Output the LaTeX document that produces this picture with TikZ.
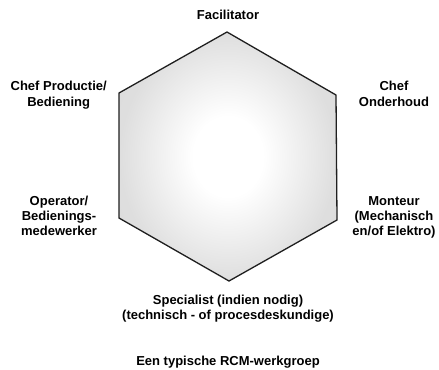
\documentclass[tikz,border=0pt]{standalone}
\usepackage{fontspec}
\setmainfont{Liberation Sans}
\pgfdeclareradialshading{hexshade}{\pgfpoint{0bp}{0bp}}{color(0bp)=(white); color(8bp)=(white); color(25bp)=(black!13); color(50bp)=(black!15)}
\begin{document}
\begin{tikzpicture}[x=1bp,y=-1bp,
  lbl/.style={align=center,anchor=base,inner sep=0pt,font=\fontsize{13bp}{15.2bp}\selectfont\bfseries},
  hexline/.style={draw=black!88,line width=1.3bp,line join=miter}]
\useasboundingbox (0,0) rectangle (439,369);
\coordinate (T) at (227,32);
\coordinate (UR) at (336,95);
\coordinate (LR) at (337,220);
\coordinate (B) at (229,281);
\coordinate (LL) at (119,218);
\coordinate (UL) at (119,93);
\shade[shading=hexshade] (T) -- (UR) -- (LR) -- (B) -- (LL) -- (UL) -- cycle;
\draw[hexline] (T) -- (UR) -- (LR) -- (B) -- (LL) -- (UL) -- cycle;
\node[lbl] (fac) at (228,19.5) {Facilitator};
\node[lbl] (cpb) at (58.7,106) {Chef Productie/\\Bediening};
\node[lbl] (cho) at (394,106) {Chef\\Onderhoud};
\node[lbl] (opb) at (59,235.7) {Operator/\\Bedienings-\\medewerker};
\node[lbl] (mon) at (394,235.7) {Monteur\\(Mechanisch\\en/of Elektro)};
\node[lbl] (spe) at (228,319.3) {Specialist (indien nodig)\\(technisch - of procesdeskundige)};
\node[lbl] (cap) at (228,365.5) {Een typische RCM-werkgroep};
\end{tikzpicture}
\end{document}
